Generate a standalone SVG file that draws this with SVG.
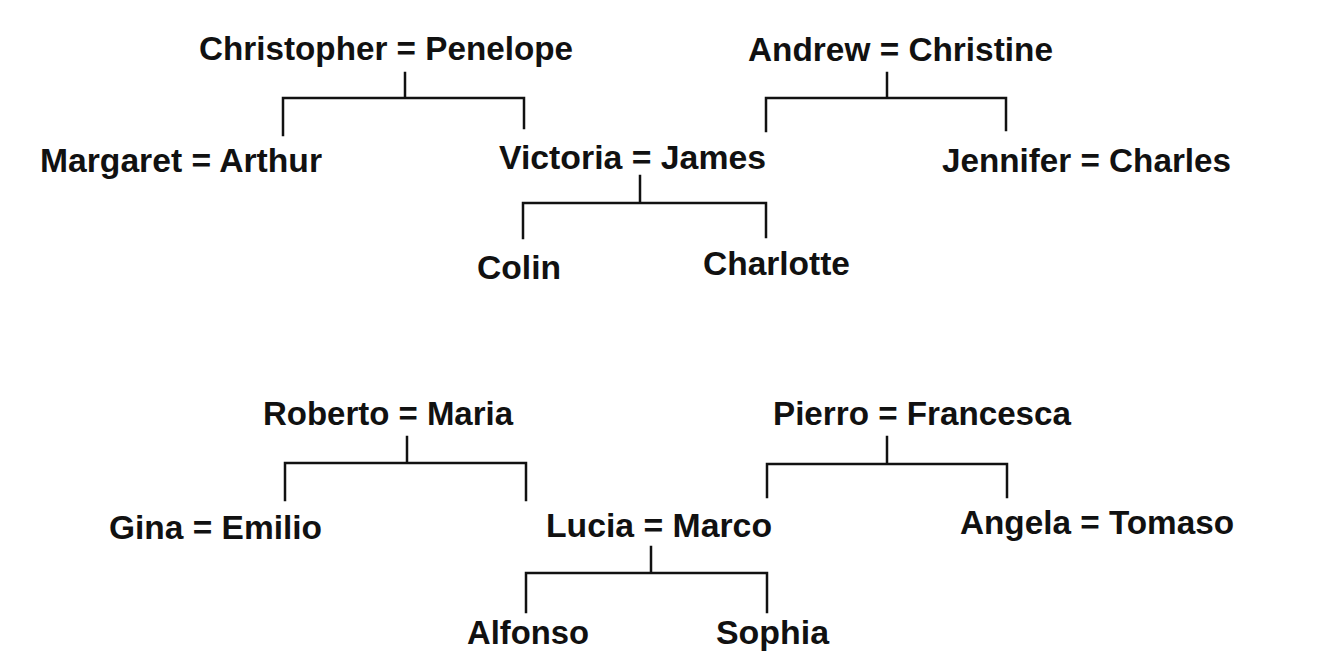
<svg xmlns="http://www.w3.org/2000/svg" width="1317" height="666" viewBox="0 0 1317 666">
<style>
.t{font-family:"Liberation Sans",Arial,sans-serif;font-weight:bold;font-size:33px;fill:#111}
.c{fill:none;stroke:#111;stroke-width:2.5;stroke-linecap:square}
</style>
<rect width="1317" height="666" fill="#fff"/>
<g id="connectors">
<path class="c" d="M405 73V98M283 135V98H524V128"/>
<path class="c" d="M887 73V98M766 131V98H1006V130"/>
<path class="c" d="M640 176V203M523 238V203H766V237"/>
<path class="c" d="M407 437V463M285 500V463H526V500"/>
<path class="c" d="M887 437V464M767 497V464H1007V497"/>
<path class="c" d="M651 547V573M526 612V573H767V612"/>
</g>
<g id="christopher-penelope"><text class="t" x="199" y="60" textLength="374" lengthAdjust="spacingAndGlyphs">Christopher = Penelope</text></g>
<g id="andrew-christine"><text class="t" x="748" y="61" textLength="305" lengthAdjust="spacingAndGlyphs">Andrew = Christine</text></g>
<g id="margaret-arthur"><text class="t" x="40" y="172" textLength="282" lengthAdjust="spacingAndGlyphs">Margaret = Arthur</text></g>
<g id="victoria-james"><text class="t" x="499" y="169" textLength="267" lengthAdjust="spacingAndGlyphs">Victoria = James</text></g>
<g id="jennifer-charles"><text class="t" x="942" y="172" textLength="289" lengthAdjust="spacingAndGlyphs">Jennifer = Charles</text></g>
<g id="colin"><text class="t" x="477" y="279" textLength="84" lengthAdjust="spacingAndGlyphs">Colin</text></g>
<g id="charlotte"><text class="t" x="703" y="275" textLength="147" lengthAdjust="spacingAndGlyphs">Charlotte</text></g>
<g id="roberto-maria"><text class="t" x="263" y="425" textLength="250" lengthAdjust="spacingAndGlyphs">Roberto = Maria</text></g>
<g id="pierro-francesca"><text class="t" x="773" y="425" textLength="298" lengthAdjust="spacingAndGlyphs">Pierro = Francesca</text></g>
<g id="gina-emilio"><text class="t" x="109" y="539" textLength="213" lengthAdjust="spacingAndGlyphs">Gina = Emilio</text></g>
<g id="lucia-marco"><text class="t" x="546" y="537" textLength="226" lengthAdjust="spacingAndGlyphs">Lucia = Marco</text></g>
<g id="angela-tomaso"><text class="t" x="960" y="534" textLength="274" lengthAdjust="spacingAndGlyphs">Angela = Tomaso</text></g>
<g id="alfonso"><text class="t" x="467" y="644" textLength="122" lengthAdjust="spacingAndGlyphs">Alfonso</text></g>
<g id="sophia"><text class="t" x="716" y="644" textLength="113" lengthAdjust="spacingAndGlyphs">Sophia</text></g>
</svg>
